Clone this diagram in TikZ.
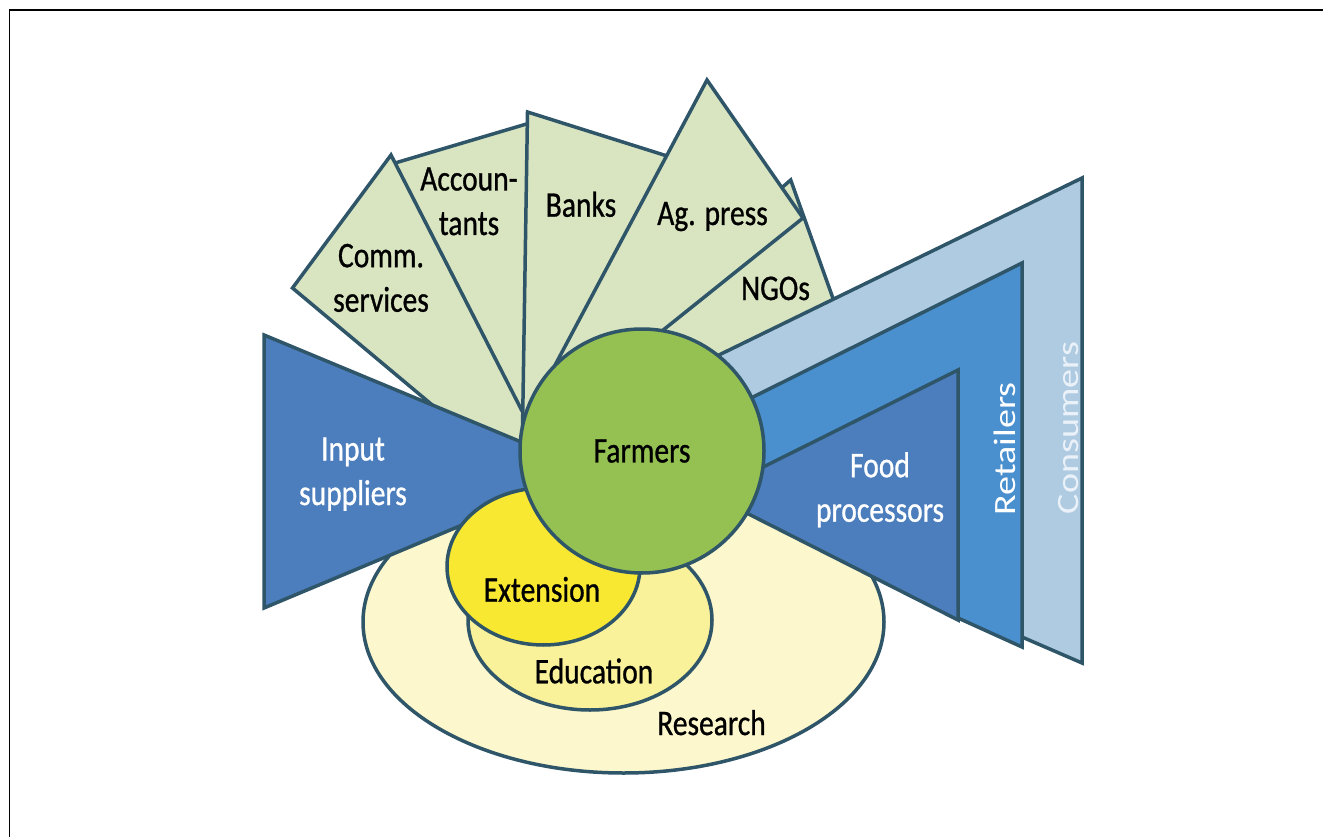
\documentclass[tikz,border=0pt]{standalone}
\usepackage{fontspec}
\setmainfont{Carlito}[FakeStretch=0.82, FakeBold=0.8]
\newfontfamily\widefont{Carlito}[FakeStretch=1.23]
\definecolor{edgecol}{HTML}{2F5569}
\definecolor{bladecol}{HTML}{D9E4C1}
\definecolor{inputcol}{HTML}{4C7EBD}
\definecolor{foodcol}{HTML}{4C7EBD}
\definecolor{retailcol}{HTML}{4A90CF}
\definecolor{consumcol}{HTML}{AFCBE1}
\definecolor{farmcol}{HTML}{95C153}
\definecolor{researchcol}{HTML}{FCF7CC}
\definecolor{educol}{HTML}{FAF29B}
\definecolor{extcol}{HTML}{F8E832}
\definecolor{consumtext}{HTML}{EAF1F8}
\begin{document}
\begin{tikzpicture}[x=1pt,y=-1pt,
  part/.style={draw=edgecol, line width=3.5pt, line join=miter},
  blade/.style={part, fill=bladecol},
  lbl/.style={inner sep=0pt, align=center, text=black, font=\fontsize{36}{44.5}\selectfont},
  wlbl/.style={lbl, text=white},
  rlbl/.style={inner sep=0pt, rotate=90, anchor=base, font=\widefont\fontsize{31}{36}\selectfont}]
\useasboundingbox (0,0) rectangle (1323,837);
\draw[line width=1.5pt, black] (9.5,837) -- (9.5,10) -- (1323,10);
% green blades
\filldraw[blade] (385,166) -- (540,120) -- (560,470) -- (480,470) -- cycle;
\filldraw[blade] (790.7,180) -- (844.3,330) -- (700,400) -- (640,330) -- (740,224) -- cycle;
\filldraw[blade] (292.5,288) -- (391,155) -- (540,446) -- (480,445) -- cycle;
\filldraw[blade] (527.5,112) -- (664,155) -- (700,166.3) -- (620,400) -- (540,460) -- (522.5,430) -- cycle;
\filldraw[blade] (707,80) -- (803,218) -- (620,364.6) -- (545,384) -- cycle;
% research
\filldraw[part, fill=researchcol] (623.5,622) ellipse [x radius=260.5, y radius=151];
% input suppliers
\filldraw[part, fill=inputcol] (264,335) -- (591,471) -- (264,608) -- cycle;
% consumers, retailers, food processors
\filldraw[part, fill=consumcol] (650,388.6) -- (1082,178) -- (1082,663) -- (1022,637) -- (958,600) -- (760,480) -- (650,450) -- cycle;
\filldraw[part, fill=retailcol] (680,433.4) -- (1022,263) -- (1022,647) -- (958,618) -- (900,560) -- (760,480) -- (680,460) -- cycle;
\filldraw[part, fill=foodcol] (958,370) -- (958,620) -- (709,494) -- cycle;
% education, extension
\filldraw[part, fill=educol] (590,620) ellipse [x radius=122, y radius=90];
\filldraw[part, fill=extcol] (543.5,566.5) ellipse [x radius=96.5, y radius=78.5];
% farmers
\node[circle, part, fill=farmcol, minimum size=244pt, inner sep=0pt,
  font=\fontsize{36}{44.5}\selectfont] (farmers) at (642,451) {Farmers};
% labels (base anchor = baseline of the last line)
\node[lbl, anchor=base] (comm) at (381,311.7) {Comm.\\services};
\node[lbl, anchor=base] (acc) at (469,235) {Accoun-\\tants};
\node[lbl, anchor=base] (banks) at (581,216.7) {Banks};
\node[lbl, anchor=base] (agp) at (712.5,225) {Ag. press};
\node[lbl, anchor=base] (ngo) at (775.5,300) {NGOs};
\node[wlbl, anchor=base] (inp) at (353,505) {Input\\suppliers};
\node[wlbl, anchor=base] (food) at (880,521.7) {Food\\processors};
\node[rlbl, text=white] (ret) at (1015.5,449) {Retailers};
\node[rlbl, text=consumtext] (cons) at (1078,428) {Consumers};
\node[lbl, anchor=base] (ext) at (542,601.7) {Extension};
\node[lbl, anchor=base] (edu) at (594,683.3) {Education};
\node[lbl, anchor=base] (res) at (711.5,735) {Research};
\end{tikzpicture}
\end{document}
